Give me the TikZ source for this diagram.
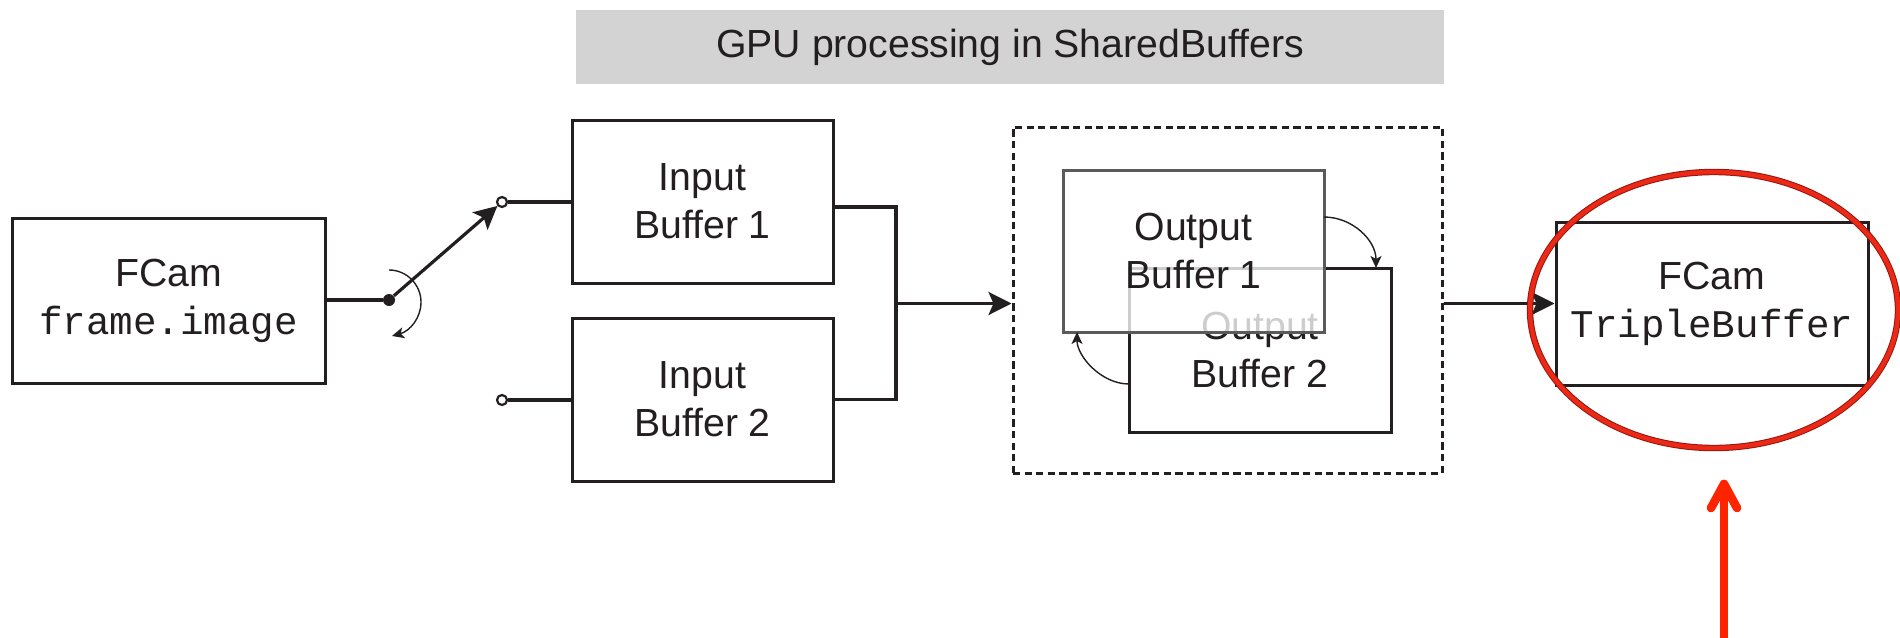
\documentclass[tikz,border=0pt]{standalone}
\usepackage{fontspec}
\setmainfont{Liberation Sans}
\newfontfamily\codefont{Liberation Mono}
\usetikzlibrary{arrows.meta,shapes.geometric,calc}
\definecolor{ink}{RGB}{35,31,32}
\definecolor{barfill}{RGB}{211,211,211}
\definecolor{frontedge}{RGB}{90,90,90}
\definecolor{markred}{RGB}{236,40,22}
\definecolor{markdark}{RGB}{150,22,12}
\definecolor{arrowred}{RGB}{255,36,0}

\begin{document}
\begin{tikzpicture}[x=0.5pt,y=-0.5pt,
  every node/.style={text=ink},
  lbl/.style={font=\fontsize{19.6}{24}\selectfont, align=center},
  blockbox/.style={draw=ink, line width=1.5pt, rectangle, inner sep=0pt, lbl},
  conn/.style={draw=ink, line width=1.6pt},
  bigtip/.style={-{Stealth[length=11.5pt,width=11.5pt,inset=2.5pt]}},
  smalltip/.style={-{Stealth[length=6pt,width=5.5pt,inset=1.5pt]}},
  thinarc/.style={draw=ink, line width=0.7pt, smalltip},
  terminal/.style={circle, draw=ink, fill=white, line width=1.1pt, minimum size=5pt, inner sep=0pt},
  pivot/.style={circle, fill=ink, minimum size=6pt, inner sep=0pt},
  groupbox/.style={draw=ink, line width=1.5pt, dash pattern=on 3.6pt off 2.2pt, rectangle, inner sep=0pt},
]
\useasboundingbox (0,0) rectangle (1900,637);

% title bar
\node[fill=barfill, minimum width=434pt, minimum height=37pt, inner sep=0pt, lbl] (bar) at (1010,47) {GPU processing in SharedBuffers};

% source block
\node[blockbox, minimum width=156.5pt, minimum height=82.5pt] (cam) at (168.5,300.5) {FCam\\{\codefont frame.image}};

% switch
\node[pivot] (dot) at (389,300) {};
\node[terminal] (sw1) at (502,202) {};
\node[terminal] (sw2) at (502,400) {};

% input buffers
\node[blockbox, minimum width=130.5pt, minimum height=81.5pt] (in1) at (702.5,201.5) {Input\\Buffer 1};
\node[blockbox, minimum width=130.5pt, minimum height=81.5pt] (in2) at (702.5,399.5) {Input\\Buffer 2};

% output buffer group
\node[groupbox, minimum width=214.5pt, minimum height=173pt] (grp) at (1227.5,300) {};
\node[blockbox, minimum width=131pt, minimum height=82pt] (out2) at (1260,350) {Output\\Buffer 2};
\node[blockbox, draw=frontedge, fill=white, fill opacity=0.78, text opacity=1,
      minimum width=130.5pt, minimum height=81pt] (out1) at (1193.5,251) {Output\\Buffer 1};

% destination block
\node[blockbox, minimum width=156pt, minimum height=81.5pt] (tb) at (1712,303.5) {FCam\\{\codefont TripleBuffer}};

% connectors
\draw[conn] (cam.east |- dot) -- (dot);
\draw[conn, bigtip] (dot) -- (sw1);
\draw[conn] (sw1) -- (sw1 -| in1.west);
\draw[conn] (sw2) -- (sw2 -| in2.west);
\coordinate (jn) at (896,303.5);
\draw[conn] ([yshift=-2.75pt]in1.east) -| (jn) |- (in2.east);
\draw[conn, bigtip] (jn) -- (jn -| grp.west);
\draw[conn, bigtip] (grp.east |- tb.west) -- (tb.west);

% switch rotation arc
\coordinate (rs) at (389,270);
\coordinate (re) at (392,336);
\draw[thinarc] (rs) .. controls (407,270) and (421,285) .. (421,302)
  .. controls (421,318) and (410,331) .. (re);

% buffer swap arcs
\coordinate (o1s) at (1324,217);
\coordinate (o1e) at (1376,268);
\draw[thinarc] (o1s) .. controls (1352,217) and (1376,240) .. (o1e);
\coordinate (o2s) at (1129,384);
\coordinate (o2e) at (1077,332);
\draw[thinarc] (o2s) .. controls (1101,384) and (1077,356) .. (o2e);

% highlight ring
\node[ellipse, draw=markdark, double=markred, line width=0.5pt, double distance=2.2pt,
      minimum width=184pt, minimum height=138pt, inner sep=0pt] (hl) at (1714,310) {};

% pointer arrow
\coordinate (rtail) at (1724,645);
\coordinate (rtip) at (1724,484);
\draw[arrowred, line width=4.3pt, line cap=round, line join=round] (rtail) -- (rtip);
\draw[arrowred, line width=4.3pt, line cap=round, line join=round]
  ($(rtip)+(-13,24)$) -- (rtip) -- ($(rtip)+(13,24)$);
\end{tikzpicture}
\end{document}
